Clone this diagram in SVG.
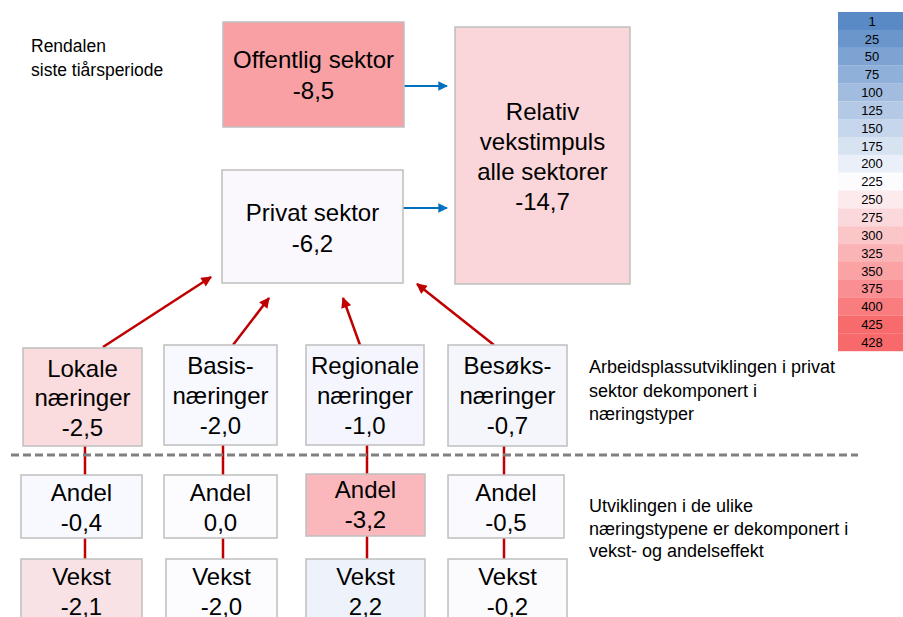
<svg xmlns="http://www.w3.org/2000/svg" width="903" height="617" viewBox="0 0 903 617">
<style>
.box{stroke:#BFBFBF;stroke-width:1.5}
.t{font-family:"Liberation Sans",Arial,sans-serif;font-size:24px;fill:#000;text-anchor:middle}
.note{font-family:"Liberation Sans",Arial,sans-serif;font-size:17.5px;fill:#000}
.note2{font-family:"Liberation Sans",Arial,sans-serif;font-size:18px;fill:#000}
.leg{font-family:"Liberation Sans",Arial,sans-serif;font-size:13px;fill:#000;text-anchor:middle}
.red{stroke:#C00000;stroke-width:2.5;fill:none}
.blue{stroke:#0070C0;stroke-width:2.2;fill:none}
</style>
<defs>
<marker id="ar" viewBox="0 0 10 10" refX="9" refY="5" markerWidth="4.6" markerHeight="4.2" orient="auto"><path d="M0,0 L10,5 L0,10 z" fill="#C00000"/></marker>
<marker id="ab" viewBox="0 0 10 10" refX="9" refY="5" markerWidth="4.4" markerHeight="4.6" orient="auto"><path d="M0,0 L10,5 L0,10 z" fill="#0070C0"/></marker>
</defs>
<rect width="903" height="617" fill="#FFFFFF"/>

<g id="title">
<text class="note" x="31" y="52">Rendalen</text>
<text class="note" x="31" y="76">siste tiårsperiode</text>
</g>

<g id="connectors">
<line class="blue" x1="404" y1="86" x2="447" y2="86" marker-end="url(#ab)"/>
<line class="blue" x1="403" y1="208" x2="447" y2="208" marker-end="url(#ab)"/>
<line class="red" x1="103" y1="347" x2="211" y2="277" marker-end="url(#ar)"/>
<line class="red" x1="233" y1="345" x2="269" y2="298" marker-end="url(#ar)"/>
<line class="red" x1="360" y1="345" x2="343" y2="298" marker-end="url(#ar)"/>
<line class="red" x1="494" y1="345" x2="417" y2="284" marker-end="url(#ar)"/>
<line class="red" x1="85" y1="446" x2="85" y2="475"/>
<line class="red" x1="223" y1="445" x2="223" y2="475"/>
<line class="red" x1="367" y1="445" x2="367" y2="474"/>
<line class="red" x1="504" y1="446" x2="504" y2="475"/>
<line class="red" x1="85" y1="538" x2="85" y2="559"/>
<line class="red" x1="223" y1="538" x2="223" y2="559"/>
<line class="red" x1="367" y1="536" x2="367" y2="559"/>
<line class="red" x1="504" y1="538" x2="504" y2="559"/>
</g>

<line id="divider" x1="11" y1="455" x2="858" y2="455" stroke="#808080" stroke-width="3" stroke-dasharray="8,4"/>

<g id="offentlig">
<rect class="box" x="223" y="22" width="181" height="105" fill="#F8A0A4"/>
<text class="t" x="313.5" y="68">Offentlig sektor</text>
<text class="t" x="313.5" y="99">-8,5</text>
</g>

<g id="relativ">
<rect class="box" x="455" y="27" width="175" height="257" fill="#FAD5D9"/>
<text class="t" x="542.5" y="120">Relativ</text>
<text class="t" x="542.5" y="150">vekstimpuls</text>
<text class="t" x="542.5" y="180">alle sektorer</text>
<text class="t" x="542.5" y="210">-14,7</text>
</g>

<g id="privat">
<rect class="box" x="222" y="170" width="181" height="113" fill="#FAF8FC"/>
<text class="t" x="312.5" y="221">Privat sektor</text>
<text class="t" x="312.5" y="252">-6,2</text>
</g>

<g id="lokale">
<rect class="box" x="23" y="348" width="119" height="98" fill="#FADBDE"/>
<text class="t" x="82.5" y="377">Lokale</text>
<text class="t" x="82.5" y="406">næringer</text>
<text class="t" x="82.5" y="436">-2,5</text>
</g>
<g id="basis">
<rect class="box" x="164" y="345" width="113" height="100" fill="#F8F9FE"/>
<text class="t" x="220.5" y="374">Basis-</text>
<text class="t" x="220.5" y="404">næringer</text>
<text class="t" x="220.5" y="434">-2,0</text>
</g>
<g id="regionale">
<rect class="box" x="306" y="345" width="118" height="100" fill="#F5F6FD"/>
<text class="t" x="365" y="374">Regionale</text>
<text class="t" x="365" y="404">næringer</text>
<text class="t" x="365" y="434">-1,0</text>
</g>
<g id="besoks">
<rect class="box" x="448" y="345" width="119" height="101" fill="#F4F6FC"/>
<text class="t" x="507.5" y="374">Besøks-</text>
<text class="t" x="507.5" y="404">næringer</text>
<text class="t" x="507.5" y="434">-0,7</text>
</g>

<g id="andel-lokale">
<rect class="box" x="21" y="475" width="121" height="63" fill="#F8F9FE"/>
<text class="t" x="81.5" y="501">Andel</text>
<text class="t" x="81.5" y="531">-0,4</text>
</g>
<g id="andel-basis">
<rect class="box" x="164" y="475" width="113" height="63" fill="#FCFCFF"/>
<text class="t" x="220.5" y="501">Andel</text>
<text class="t" x="220.5" y="531">0,0</text>
</g>
<g id="andel-regionale">
<rect class="box" x="306" y="474" width="119" height="62" fill="#FBB8BC"/>
<text class="t" x="365.5" y="498">Andel</text>
<text class="t" x="365.5" y="528">-3,2</text>
</g>
<g id="andel-besoks">
<rect class="box" x="448" y="475" width="116" height="63" fill="#FAFAFE"/>
<text class="t" x="506" y="501">Andel</text>
<text class="t" x="506" y="531">-0,5</text>
</g>

<g id="vekst-lokale">
<rect class="box" x="21" y="559" width="121" height="80" fill="#F9E2E5"/>
<text class="t" x="81.5" y="585">Vekst</text>
<text class="t" x="81.5" y="615">-2,1</text>
</g>
<g id="vekst-basis">
<rect class="box" x="166" y="559" width="111" height="80" fill="#FCFCFF"/>
<text class="t" x="221.5" y="585">Vekst</text>
<text class="t" x="221.5" y="615">-2,0</text>
</g>
<g id="vekst-regionale">
<rect class="box" x="306" y="559" width="119" height="80" fill="#EEF3FB"/>
<text class="t" x="365.5" y="585">Vekst</text>
<text class="t" x="365.5" y="615">2,2</text>
</g>
<g id="vekst-besoks">
<rect class="box" x="448" y="559" width="119" height="80" fill="#FBFBFE"/>
<text class="t" x="507.5" y="585">Vekst</text>
<text class="t" x="507.5" y="615">-0,2</text>
</g>

<g id="notes">
<text class="note2" x="589" y="373">Arbeidsplassutviklingen i privat</text>
<text class="note2" x="589" y="397">sektor dekomponert i</text>
<text class="note2" x="589" y="420">næringstyper</text>
<text class="note2" x="589" y="512">Utviklingen i de ulike</text>
<text class="note2" x="589" y="535">næringstypene er dekomponert i</text>
<text class="note2" x="589" y="557">vekst- og andelseffekt</text>
</g>

<g id="legend">
<rect x="838" y="12" width="65" height="18" fill="#5A8AC6"/>
<rect x="838" y="29.9" width="65" height="18" fill="#6B96CC"/>
<rect x="838" y="47.7" width="65" height="18" fill="#7DA3D2"/>
<rect x="838" y="65.6" width="65" height="18" fill="#8FB0D9"/>
<rect x="838" y="83.4" width="65" height="18" fill="#A2BCDF"/>
<rect x="838" y="101.3" width="65" height="18" fill="#B4C9E6"/>
<rect x="838" y="119.1" width="65" height="18" fill="#C6D6EC"/>
<rect x="838" y="137" width="65" height="18" fill="#D8E3F2"/>
<rect x="838" y="154.8" width="65" height="18" fill="#EAEFF9"/>
<rect x="838" y="172.7" width="65" height="18" fill="#FCFCFF"/>
<rect x="838" y="190.5" width="65" height="18" fill="#FCEAED"/>
<rect x="838" y="208.4" width="65" height="18" fill="#FBD8DB"/>
<rect x="838" y="226.2" width="65" height="18" fill="#FBC6C8"/>
<rect x="838" y="244.1" width="65" height="18" fill="#FAB4B6"/>
<rect x="838" y="261.9" width="65" height="18" fill="#FAA2A4"/>
<rect x="838" y="279.8" width="65" height="18" fill="#F98F92"/>
<rect x="838" y="297.6" width="65" height="18" fill="#F97D7F"/>
<rect x="838" y="315.5" width="65" height="18" fill="#F86B6D"/>
<rect x="838" y="333.3" width="65" height="17.9" fill="#F8696B"/>
<text class="leg" x="872" y="25.6">1</text>
<text class="leg" x="872" y="43.5">25</text>
<text class="leg" x="872" y="61.3">50</text>
<text class="leg" x="872" y="79.2">75</text>
<text class="leg" x="872" y="97">100</text>
<text class="leg" x="872" y="114.9">125</text>
<text class="leg" x="872" y="132.7">150</text>
<text class="leg" x="872" y="150.6">175</text>
<text class="leg" x="872" y="168.4">200</text>
<text class="leg" x="872" y="186.3">225</text>
<text class="leg" x="872" y="204.1">250</text>
<text class="leg" x="872" y="222">275</text>
<text class="leg" x="872" y="239.8">300</text>
<text class="leg" x="872" y="257.7">325</text>
<text class="leg" x="872" y="275.5">350</text>
<text class="leg" x="872" y="293.4">375</text>
<text class="leg" x="872" y="311.2">400</text>
<text class="leg" x="872" y="329.1">425</text>
<text class="leg" x="872" y="346.9">428</text>
</g>
</svg>
